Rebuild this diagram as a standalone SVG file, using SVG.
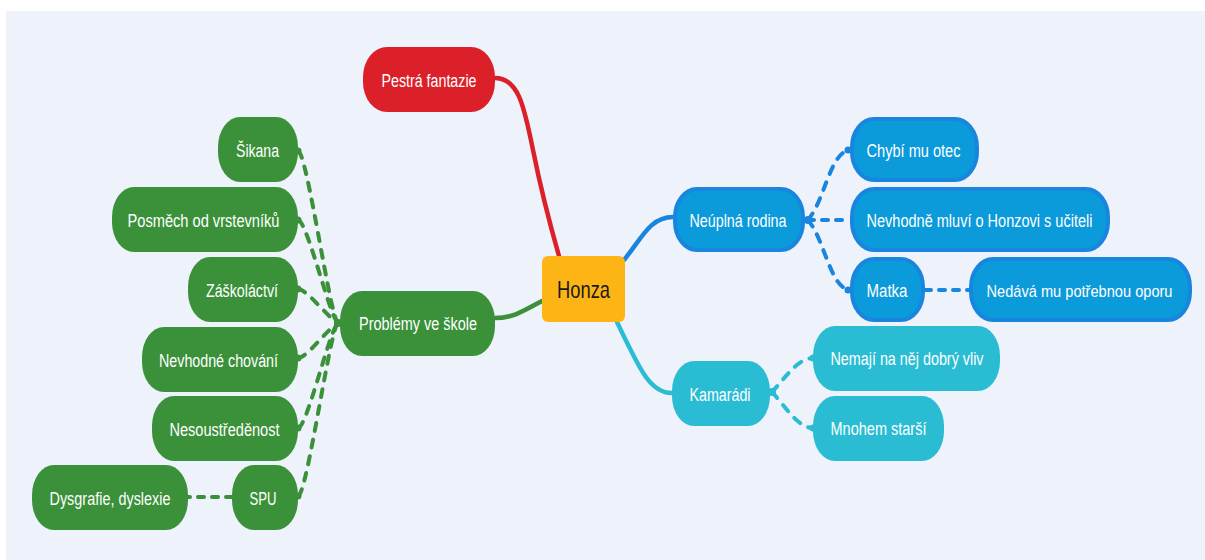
<svg xmlns="http://www.w3.org/2000/svg" width="1205" height="560" viewBox="0 0 1205 560">
<defs>
<style>
.t{font-family:"Liberation Sans",Arial,sans-serif;font-size:18px;fill:#ffffff;text-anchor:middle}
.th{font-family:"Liberation Sans",Arial,sans-serif;font-size:24px;fill:#1a1a1a;text-anchor:middle}
.g{fill:#3A9139}
.r{fill:#DC2029}
.b{fill:#0B9ADA;stroke:#1886DF;stroke-width:4}
.c{fill:#29BCD3}
.o{fill:#FDB515}
.main{fill:none;stroke-width:4.5;stroke-linecap:round}
.dash{fill:none;stroke-width:4;stroke-linecap:round;stroke-dasharray:8 9}
.dh{fill:none;stroke-width:4;stroke-linecap:round;stroke-dasharray:6 8}
.sg{stroke:#3A9139}
.sb{stroke:#1886DF}
.sc{stroke:#29BCD3}
.sr{stroke:#DC2029}
</style>
</defs>
<rect x="0" y="0" width="1205" height="560" fill="#ffffff"/>
<rect x="6" y="11" width="1199" height="549" fill="#EEF2FA"/>

<g id="connectors">
<path class="main sr" d="M495,78 C518,78 524,105 533,150 S551,228 559,256"/>
<path class="main sb" d="M624,260 C642,238 650,217 673,217"/>
<path class="main sc" d="M617,322 C640,370 650,393 672,393"/>
<path class="main sg" d="M542,301 C522,312 512,318 495,318"/>

<path class="dash sg" d="M298,151 C307,151 330,318 338,323"/>
<path class="dash sg" d="M298,220 C307,220 330,318 338,323"/>
<path class="dash sg" d="M298,289 C307,289 328,318 338,323"/>
<path class="dash sg" d="M298,358 C307,358 328,328 338,323"/>
<path class="dash sg" d="M298,428 C307,428 330,328 338,323"/>
<path class="dash sg" d="M298,496 C307,496 330,328 338,323"/>
<path class="dh sg" d="M232,497 H188"/>

<path class="dash sb" d="M808,220 C825,200 830,152 850,150"/>
<path class="dh sb" d="M808,220 H850"/>
<path class="dash sb" d="M808,220 C825,240 830,288 850,290"/>
<path class="dh sb" d="M925,290 H969"/>

<path class="dash sc" d="M772,392 C785,378 798,358 813,358"/>
<path class="dash sc" d="M772,392 C785,406 798,428 813,428"/>

<g fill="#3A9139">
<circle cx="298" cy="151" r="3.5"/><circle cx="298" cy="220" r="3.5"/><circle cx="298" cy="289" r="3.5"/>
<circle cx="298" cy="358" r="3.5"/><circle cx="298" cy="428" r="3.5"/><circle cx="298" cy="496" r="3.5"/>
<circle cx="338" cy="323" r="4"/>
</g>
<g fill="#1886DF">
<circle cx="808" cy="220" r="4"/><circle cx="848" cy="150" r="3.5"/><circle cx="848" cy="290" r="3.5"/>
</g>
<g fill="#29BCD3">
<circle cx="772" cy="392" r="4"/><circle cx="813" cy="358" r="3.5"/><circle cx="813" cy="428" r="3.5"/>
</g>
</g>

<g id="n-pestra"><rect class="r" x="363" y="47" width="132" height="65" rx="24" ry="30"/><text class="t" x="429" y="87" textLength="95" lengthAdjust="spacingAndGlyphs">Pestrá fantazie</text></g>
<g id="n-honza"><rect class="o" x="542" y="256" width="83" height="66" rx="6"/><text class="th" x="583.5" y="298" textLength="53" lengthAdjust="spacingAndGlyphs">Honza</text></g>

<g id="n-sikana"><rect class="g" x="218" y="117" width="80" height="65" rx="22" ry="30"/><text class="t" x="257.5" y="157" textLength="43" lengthAdjust="spacingAndGlyphs">Šikana</text></g>
<g id="n-posmech"><rect class="g" x="112" y="187" width="186" height="65" rx="22" ry="30"/><text class="t" x="203.5" y="227" textLength="152" lengthAdjust="spacingAndGlyphs">Posměch od vrstevníků</text></g>
<g id="n-zaskolactvi"><rect class="g" x="188" y="257" width="110" height="65" rx="22" ry="30"/><text class="t" x="242" y="297" textLength="72" lengthAdjust="spacingAndGlyphs">Záškoláctví</text></g>
<g id="n-chovani"><rect class="g" x="142" y="327" width="156" height="65" rx="22" ry="30"/><text class="t" x="218.5" y="367" textLength="119" lengthAdjust="spacingAndGlyphs">Nevhodné chování</text></g>
<g id="n-nesoustredenost"><rect class="g" x="152" y="396" width="146" height="65" rx="22" ry="30"/><text class="t" x="224.5" y="436" textLength="110" lengthAdjust="spacingAndGlyphs">Nesoustředěnost</text></g>
<g id="n-spu"><rect class="g" x="232" y="465" width="66" height="65" rx="22" ry="30"/><text class="t" x="263" y="505" textLength="27" lengthAdjust="spacingAndGlyphs">SPU</text></g>
<g id="n-dysgrafie"><rect class="g" x="32" y="465" width="156" height="65" rx="22" ry="30"/><text class="t" x="110" y="505" textLength="121" lengthAdjust="spacingAndGlyphs">Dysgrafie, dyslexie</text></g>
<g id="n-problemy"><rect class="g" x="340" y="291" width="155" height="65" rx="22" ry="30"/><text class="t" x="418" y="330" textLength="118" lengthAdjust="spacingAndGlyphs">Problémy ve škole</text></g>

<g id="n-neuplna"><rect class="b" x="675" y="189" width="128" height="61" rx="22" ry="28"/><text class="t" x="738" y="227" textLength="97" lengthAdjust="spacingAndGlyphs">Neúplná rodina</text></g>
<g id="n-chybi"><rect class="b" x="852" y="119" width="125" height="61" rx="22" ry="28"/><text class="t" x="913.5" y="157" textLength="94" lengthAdjust="spacingAndGlyphs">Chybí mu otec</text></g>
<g id="n-nevhodne"><rect class="b" x="852" y="189" width="256" height="61" rx="22" ry="28"/><text class="t" x="979.5" y="227" textLength="226" lengthAdjust="spacingAndGlyphs">Nevhodně mluví o Honzovi s učiteli</text></g>
<g id="n-matka"><rect class="b" x="852" y="259" width="71" height="61" rx="22" ry="28"/><text class="t" x="887" y="297" textLength="41" lengthAdjust="spacingAndGlyphs">Matka</text></g>
<g id="n-nedava"><rect class="b" x="971" y="259" width="219" height="61" rx="22" ry="28"/><text class="t" x="1079.5" y="297" style="font-size:17px" textLength="186" lengthAdjust="spacingAndGlyphs">Nedává mu potřebnou oporu</text></g>

<g id="n-kamaradi"><rect class="c" x="672" y="361" width="98" height="65" rx="22" ry="30"/><text class="t" x="720" y="401" textLength="61" lengthAdjust="spacingAndGlyphs">Kamarádi</text></g>
<g id="n-nemaji"><rect class="c" x="813" y="326" width="187" height="65" rx="22" ry="30"/><text class="t" x="907" y="365" textLength="153" lengthAdjust="spacingAndGlyphs">Nemají na něj dobrý vliv</text></g>
<g id="n-mnohem"><rect class="c" x="813" y="396" width="131" height="65" rx="22" ry="30"/><text class="t" x="878.5" y="435" textLength="96" lengthAdjust="spacingAndGlyphs">Mnohem starší</text></g>
</svg>
